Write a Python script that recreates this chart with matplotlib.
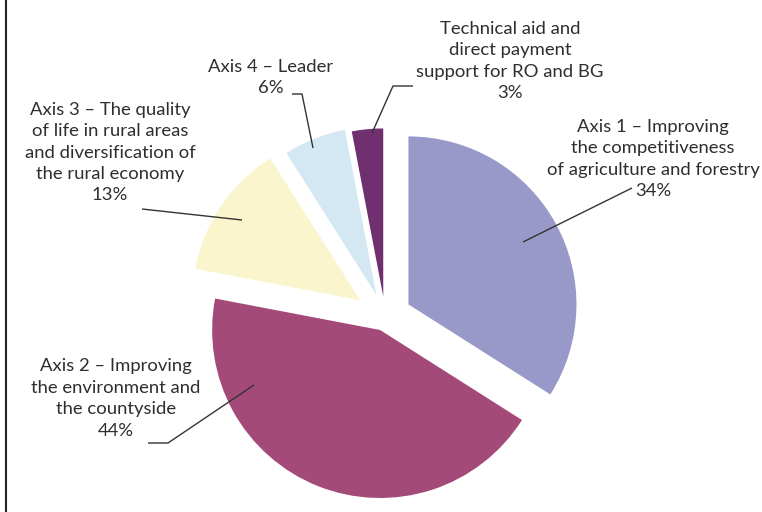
import matplotlib
matplotlib.use("Agg")
import matplotlib.pyplot as plt

# ---- data ----
categories = [
    "Axis 1 \u2013 Improving\nthe competitiveness\nof agriculture and forestry",
    "Axis 2 \u2013 Improving\nthe environment and\nthe countyside",
    "Axis 3 \u2013 The quality\nof life in rural areas\nand diversification of\nthe rural economy",
    "Axis 4 \u2013 Leader",
    "Technical aid and\ndirect payment\nsupport for RO and BG",
]
shares = [34, 44, 13, 6, 3]
pct_labels = ["34%", "44%", "13%", "6%", "3%"]

# ---- styles ----
colors = ["#9999c9", "#a44a78", "#faf5cd", "#d3e8f2", "#70306f"]
explode = [0.158, 0.082, 0.180, 0.143, 0.124]
PX = 168.0              # pixels per radius unit
CX, CY = 385.2, 317.2   # pie centre in pixel coords (y down)

def P(x, y):
    """pixel coords (y down) -> data coords"""
    return ((x - CX) / PX, (CY - y) / PX)

fig = plt.figure(figsize=(7.62, 5.12), dpi=100)
ax = fig.add_axes([0, 0, 1, 1])
ax.pie(shares, colors=colors, startangle=90, counterclock=False,
       explode=explode, radius=1.0, center=(0, 0),
       wedgeprops=dict(linewidth=0))
x0, y0 = P(0, 512)
x1, y1 = P(762, 0)
ax.set_xlim(x0, x1)
ax.set_ylim(y0, y1)
ax.set_aspect("equal")
ax.axis("off")

txt_kw = dict(ha="center", va="center", fontsize=13.3, color="#2e2e2e",
              family=["Lato", "DejaVu Sans"], linespacing=1.42)

label_pos = [(653, 159), (116, 398.5), (110, 152.5), (271, 77.5), (510, 61)]
for cat, pct, (lx, ly) in zip(categories, pct_labels, label_pos):
    tx, ty = P(lx, ly)
    ax.text(tx, ty, cat + "\n" + pct, **txt_kw)

leaders = [
    [(523, 242), (632, 188)],
    [(254, 385), (168, 443), (148, 443)],
    [(242, 220), (142, 209)],
    [(313, 148), (302, 94), (292, 94)],
    [(372, 133), (393, 86), (413, 86)],
]
for pts in leaders:
    d = [P(x, y) for x, y in pts]
    ax.plot([p[0] for p in d], [p[1] for p in d], color="#333333", lw=1.0,
            solid_capstyle="butt")

# left frame line
bx0, by0 = P(5.5, 0)
bx1, by1 = P(5.5, 512)
ax.plot([bx0, bx1], [by0, by1], color="#222222", lw=1.5)

fig.savefig("out.png", dpi=100)
